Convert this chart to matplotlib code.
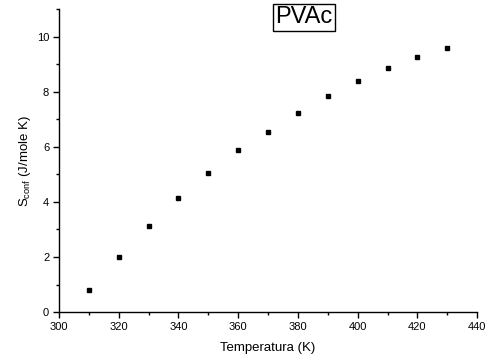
import numpy as np
import matplotlib
matplotlib.use("Agg")
import matplotlib.pyplot as plt
from matplotlib.ticker import MultipleLocator

plt.rcParams['font.family'] = ['Liberation Sans', 'DejaVu Sans']
plt.rcParams['mathtext.fontset'] = 'custom'
plt.rcParams['mathtext.rm'] = 'Liberation Sans'

# temperature (K) and configurational entropy (J/mole K)
temps = [310, 320, 330, 340, 350, 360, 370, 380, 390, 400, 410, 420, 430]
s_conf = [0.80, 2.01, 3.13, 4.14, 5.06, 5.89, 6.53, 7.24, 7.86, 8.39, 8.85, 9.26, 9.60]

fig = plt.figure(figsize=(4.91, 3.6), dpi=100)
ax = fig.add_axes([0.120, 0.133, 0.852, 0.842])

ax.plot(temps, s_conf, 's', color='black', markersize=3)

ax.set_xlim(300, 440)
ax.set_ylim(0, 11)
ax.xaxis.set_major_locator(MultipleLocator(20))
ax.xaxis.set_minor_locator(MultipleLocator(10))
ax.yaxis.set_major_locator(MultipleLocator(2))
ax.yaxis.set_minor_locator(MultipleLocator(1))

for side in ['top', 'right']:
    ax.spines[side].set_visible(False)
for side in ['left', 'bottom']:
    ax.spines[side].set_linewidth(1.0)

ax.tick_params(which='major', direction='out', length=4, width=1, labelsize=8, pad=3)
ax.tick_params(which='minor', direction='out', length=2, width=1)

ax.set_xlabel('Temperatura (K)', fontsize=9.5, labelpad=7)
ax.set_ylabel(r'S$_{\mathrm{conf}}$ (J/mole K)', fontsize=9.5, labelpad=3)

ax.text(382, 10.7, 'PVAc', fontsize=17, ha='center', va='center',
        bbox=dict(boxstyle='square,pad=0.1', facecolor='white', edgecolor='black', linewidth=1))

fig.savefig('out.png', dpi=100)
